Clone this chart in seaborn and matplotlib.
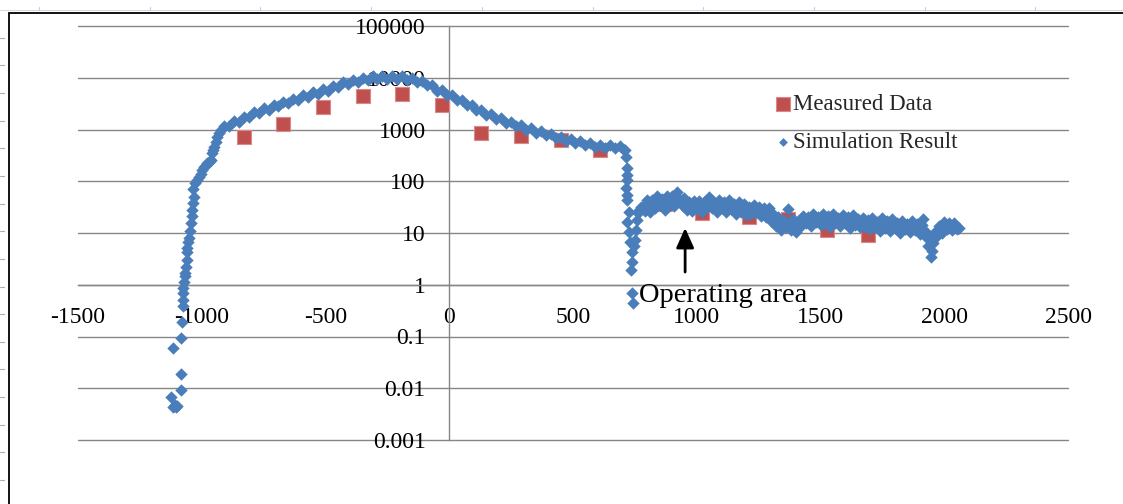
import numpy as np
import pandas as pd
import matplotlib
matplotlib.use("Agg")
import matplotlib.pyplot as plt
import seaborn as sns
from matplotlib.lines import Line2D
from matplotlib.ticker import NullLocator

# ---------------- data ----------------
measured_x = [-830, -670, -510, -350, -190, -30, 130, 290, 450, 610,
              870, 1020, 1210, 1370, 1525, 1690]
measured_y = [720, 1300, 2720, 4440, 4860, 2970, 855, 740, 627, 402,
              36, 24, 20, 19, 11.4, 9.1]

sim_steep_x = [-1124, -1118, -1110, -1102, -1106, -1084, -1082, -1118, -1082, -1080,
               -1077, -1076, -1074, -1074, -1070, -1068, -1066, -1062, -1060, -1058,
               -1058, -1054, -1050, -1046, -1042, -1040, -1038, -1034, -1032, -1034,
               -1028, -1020, -1010, -1004, -998, -990, -985, -977, -970, -965,
               -961, -957, -953, -949, -943, -937, -929, -921]
sim_steep_y = [0.0068, 0.0044, 0.0047, 0.0045, 0.0043, 0.0092, 0.0186, 0.059, 0.093, 0.19,
               0.38, 0.50, 0.69, 0.87, 1.12, 1.45, 1.70, 2.2, 3.0, 4.3,
               5.1, 6.7, 8.0, 11, 15.6, 21, 28, 38, 50, 70,
               92, 105, 121, 140, 165, 190, 200, 225, 240, 245,
               258, 352, 400, 460, 575, 716, 850, 978]

sim_band_x = [-910, -890, -870, -850, -830, -810, -790, -770, -750, -730,
              -710, -690, -670, -650, -630, -610, -590, -570, -550, -530,
              -510, -490, -470, -450, -430, -410, -390, -370, -350, -330,
              -310, -290, -270, -250, -230, -210, -190, -170, -150, -130,
              -110, -90, -70, -50, -30, -10, 10, 30, 50, 70,
              90, 110, 130, 150, 170, 190, 210, 230, 250, 270,
              290, 310, 330, 350, 370, 390, 410, 430, 450, 470,
              490, 510, 530, 550, 570, 590, 610, 630, 650, 670,
              690, 705]
sim_band_y = [1150, 1150, 1440, 1400, 1780, 1720, 2160, 2070, 2570, 2400,
              2980, 2790, 3420, 3210, 3930, 3720, 4560, 4320, 5300, 4960,
              6020, 5630, 6990, 6620, 8120, 7510, 9110, 8430, 9990, 9030,
              10580, 9350, 10820, 9570, 10950, 9460, 10580, 9030, 9870, 8140,
              8700, 7090, 7230, 5630, 5810, 4580, 4730, 3680, 3750, 2920,
              2980, 2350, 2420, 1930, 2020, 1610, 1660, 1320, 1410, 1150,
              1230, 1000, 1070, 870, 930, 770, 830, 685, 730, 597,
              645, 538, 589, 496, 549, 463, 513, 438, 501, 432,
              489, 409]

sim_drop_x = [711, 715, 719, 717, 719, 715, 719, 719, 727, 719,
              727, 731, 739, 739, 735, 739, 743,
              747, 751, 755, 759, 763, 767, 775]
sim_drop_y = [402, 294, 180, 130, 106, 74, 55, 43, 25, 16.3,
              10.4, 6.7, 4.3, 2.75, 1.93, 0.69, 0.44,
              5.5, 7.3, 11.4, 17.8, 24, 27.8, 32]

sim_plateau_x = [780, 790, 800, 810, 820, 830, 840, 850, 860, 870,
                 880, 890, 900, 910, 920, 930, 940, 950, 960, 970,
                 980, 990, 1000, 1010, 1020, 1030, 1040, 1050, 1060, 1070,
                 1080, 1090, 1100, 1110, 1120, 1130, 1140, 1150, 1160, 1170,
                 1180, 1190, 1200, 1210, 1220, 1230, 1240, 1250, 1260, 1270,
                 1280, 1290, 1300, 1310, 1320, 1330, 1340, 1350, 1360, 1370,
                 1380, 1390, 1400, 1410, 1420, 1430, 1440, 1450, 1460, 1470,
                 1480, 1490, 1500, 1510, 1520, 1530, 1540, 1550, 1560, 1570,
                 1580, 1590, 1600, 1610, 1620, 1630, 1640, 1650, 1660, 1670,
                 1680, 1690, 1700, 1710, 1720, 1730, 1740, 1750, 1760, 1770,
                 1780, 1790, 1800, 1810, 1820, 1830, 1840, 1850, 1860, 1870,
                 1880, 1890, 1900, 1910, 1915, 1920, 1930, 1935, 1940, 1945,
                 1950, 1955, 1960, 1970, 1980, 1990, 2000, 2010, 2020, 2030,
                 2040, 2050, 2060]
sim_plateau_y = [30, 27, 44, 26, 43, 31, 51, 34, 45, 28,
                 52, 38, 51, 33, 61, 46, 35, 48, 28, 40,
                 27, 41, 29, 42, 26, 40, 32, 49, 30, 40,
                 26, 44, 30, 40, 26, 43, 29, 37, 23, 39,
                 26, 36, 22, 32, 23, 35, 25, 32, 21, 31,
                 20, 30, 17, 23, 13.5, 20, 11.5, 17.6, 12.8, 29,
                 11.6, 18.6, 10.5, 17.3, 13.6, 21.5, 15.3, 20.4, 13.7, 23.6,
                 16.6, 20, 14, 22.8, 15.4, 21, 13.1, 23.8, 15.3, 19.6,
                 13.6, 22, 15.6, 20.2, 12.4, 21.9, 14.4, 18.4, 12.8, 19.6,
                 13.2, 18.2, 11.7, 19.2, 13, 16.6, 10.7, 19.2, 12.3, 16.7,
                 11, 19, 12.4, 15.8, 9.8, 16.9, 11.7, 14.8, 10.5, 17,
                 11.2, 14.6, 9.6, 14.4, 19, 9.4, 8, 5.5, 7.6, 3.4,
                 4.5, 6.5, 10, 8.8, 13.8, 10.2, 16.3, 11.9, 15.5, 11.5,
                 15.6, 11.7, 12.5]

# points lying in the middle of the noisy plateau band
sim_mid_x = [785, 795, 805, 815, 825, 835, 845, 855, 865, 875,
             885, 895, 905, 915, 925, 935, 945, 955, 965, 975,
             985, 995, 1005, 1015, 1025, 1035, 1045, 1055, 1065, 1075,
             1085, 1095, 1105, 1115, 1125, 1135, 1145, 1155, 1165, 1175,
             1185, 1195, 1205, 1215, 1225, 1235, 1245, 1255, 1265, 1275,
             1285, 1295, 1305, 1315, 1325, 1335, 1345, 1355, 1365, 1375,
             1385, 1395, 1405, 1415, 1425, 1435, 1445, 1455, 1465, 1475,
             1485, 1495, 1505, 1515, 1525, 1535, 1545, 1555, 1565, 1575,
             1585, 1595, 1605, 1615, 1625, 1635, 1645, 1655, 1665, 1675,
             1685, 1695, 1705, 1715, 1725, 1735, 1745, 1755, 1765, 1775,
             1785, 1795, 1805, 1815, 1825, 1835, 1845, 1855, 1865, 1875,
             1885, 1895, 1905, 1925,
             1965, 1975, 1985, 1995, 2005, 2015, 2025, 2035, 2045, 2055]
sim_mid_y = [33, 35, 33, 37, 35, 39, 37, 40, 38, 41,
             39, 42, 40, 43, 41, 42, 39, 40, 36, 35,
             32, 33, 31, 33, 32, 34, 33, 36, 34, 35,
             33, 34, 32, 33, 31, 32, 30, 31, 29, 30,
             28, 29, 27, 28, 26, 27.5, 26, 27, 25, 25,
             23, 22.5, 20, 19.5, 17, 17.2, 15.8, 16.4, 15.5, 16.2,
             15, 15.9, 15.1, 16.2, 15.7, 17.2, 16.8, 17.9, 17, 18,
             17, 18, 17.1, 17.9, 17, 18, 17.1, 17.6, 16.6, 17.4,
             16.6, 17.4, 16.7, 17, 15.9, 16.5, 15.6, 16.4, 15.4, 16,
             15, 15.5, 14.5, 15, 14.1, 14.7, 13.9, 14.5, 13.6, 14.1,
             13.4, 13.9, 13, 13.5, 12.7, 13.3, 12.6, 13.1, 12.4, 12.9,
             12, 12.3, 11.5, 10.5,
             10.5, 11.2, 11.8, 12.5, 13.1, 13.4, 13.7, 13.2, 13.2, 12.6]

x_ticks = [-1500, -1000, -500, 0, 500, 1000, 1500, 2000, 2500]
x_tick_labels = ["-1500", "-1000", "-500", "0", "500", "1000", "1500", "2000", "2500"]
y_ticks = [0.001, 0.01, 0.1, 1, 10, 100, 1000, 10000, 100000]
y_tick_labels = ["0.001", "0.01", "0.1", "1", "10", "100", "1000", "10000", "100000"]

series_names = ["Measured Data", "Simulation Result"]
annotation_text = "Operating area"

# ---------------- styling ----------------
sns.set_style("white")
plt.rcParams["font.family"] = ["Liberation Serif", "DejaVu Serif"]
plt.rcParams["axes.unicode_minus"] = False

W, H = 1123, 504
fig = plt.figure(figsize=(W / 100, H / 100), dpi=100)
ax = fig.add_axes([78 / W, 1 - 440 / H, 990 / W, 414 / H])

meas = pd.DataFrame({"x": measured_x, "y": measured_y})
sim = pd.DataFrame({
    "x": sim_steep_x + sim_band_x + sim_drop_x + sim_plateau_x + sim_mid_x,
    "y": sim_steep_y + sim_band_y + sim_drop_y + sim_plateau_y + sim_mid_y,
})

sns.scatterplot(data=meas, x="x", y="y", ax=ax, marker="s", s=90,
                color="#C0504D", edgecolor="#D9898B", linewidth=0.8,
                label=series_names[0], zorder=3)
sns.scatterplot(data=sim, x="x", y="y", ax=ax, marker="D", s=40,
                color="#4A7EBB", linewidth=0,
                label=series_names[1], zorder=4)

ax.set_yscale("log")
ax.set_xlim(-1500, 2500)
ax.set_ylim(1e-3, 1e5)
ax.set_xticks(x_ticks)
ax.set_xticklabels(x_tick_labels)
ax.set_yticks(y_ticks)
ax.set_yticklabels(y_tick_labels)
ax.yaxis.set_minor_locator(NullLocator())
ax.xaxis.set_minor_locator(NullLocator())
ax.set_xlabel("")
ax.set_ylabel("")

for s in ["top", "right"]:
    ax.spines[s].set_visible(False)
ax.spines["left"].set_position(("data", 0))
ax.spines["bottom"].set_position(("data", 1))
for s in ["left", "bottom"]:
    ax.spines[s].set_color("#868686")
    ax.spines[s].set_linewidth(1.0)

ax.tick_params(axis="y", length=0, pad=17, labelsize=17, labelcolor="black")
ax.tick_params(axis="x", direction="out", length=6, width=1, color="#868686",
               pad=10, labelsize=17, labelcolor="black")
ax.yaxis.grid(True, color="#868686", linewidth=1.0)
ax.xaxis.grid(False)
ax.set_axisbelow(True)
for gl in ax.get_ygridlines():
    gl.set_clip_on(False)

leg = ax.legend(loc="center left", bbox_to_anchor=(0.705, 0.7645), frameon=False,
                fontsize=16.5, handlelength=0.6, handletextpad=0.15, labelspacing=0.7,
                borderpad=0, borderaxespad=0)
leg.legend_handles[0].set_sizes([90])
leg.legend_handles[1].set_sizes([20])

ax.annotate("", xy=(953, 12.5), xytext=(953, 1.76),
            arrowprops=dict(arrowstyle="-|>,head_length=0.6,head_width=0.27",
                            color="black", lw=2, mutation_scale=20,
                            shrinkA=0, shrinkB=0), zorder=6)
ax.text(767, 0.62, annotation_text, fontsize=20.5, ha="left", va="center",
        color="black", zorder=6)


def fline(x0, y0, x1, y1, **kw):
    fig.add_artist(Line2D([x0 / W, x1 / W], [1 - y0 / H, 1 - y1 / H],
                          transform=fig.transFigure, **kw))


# spreadsheet frame around the chart
fline(0, 10, W, 10, color="#D4DBE6", lw=0.8)
for xx in np.arange(39, W, 110.7):
    fline(xx, 7, xx, 10, color="#C4CCD8", lw=0.8)
for yy in np.arange(37.7, H, 27.65):
    fline(0, yy, 4, yy, color="#9DB0C8", lw=0.8)
fline(9, 13, W, 13, color="black", lw=1.3)
fline(9, 13, 9, H, color="black", lw=1.3)

fig.savefig("out.png", dpi=100)
